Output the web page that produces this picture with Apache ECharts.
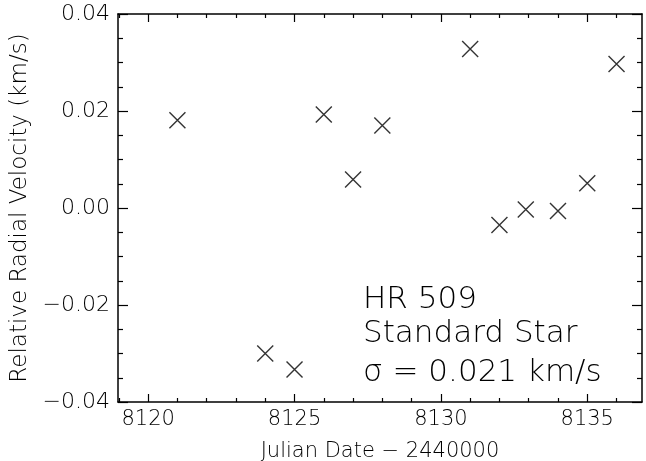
<!DOCTYPE html>
<html>
<head>
<meta charset="utf-8">
<script src="https://cdn.jsdelivr.net/npm/echarts@6/dist/echarts.min.js"></script>
<style>
  html, body { margin: 0; padding: 0; background: #fff; }
  #chart { width: 646px; height: 461px; }
</style>
</head>
<body>
<div id="chart"></div>
<script>
// Observation dates (Julian Date - 2440000) and relative radial velocities (km/s)
var julianDates = [8121.0, 8124.0, 8125.0, 8126.0, 8127.0, 8128.0, 8131.0, 8132.0, 8132.9, 8134.0, 8135.0, 8136.0];
var velocities = [0.0181, -0.0300, -0.0333, 0.0193, 0.0059, 0.0170, 0.0328, -0.0035, -0.0003, -0.0006, 0.0051, 0.0297];

// Axis ranges and ticks
var xRange = [8118.97, 8136.87];
var xMajorTicks = [8120, 8125, 8130, 8135];
var xMinorTicks = [8119, 8121, 8122, 8123, 8124, 8126, 8127, 8128, 8129, 8131, 8132, 8133, 8134, 8136];
var yRange = [-0.04, 0.04];
var yStep = 0.02;

// Annotation lines
var noteLines = ['HR 509', 'Standard Star', '\u03c3 = 0.021 km/s'];

var FONT = '"DejaVu Sans", sans-serif';
var INK = '#000';

var points = julianDates.map(function (d, i) { return [d, velocities[i]]; });

function xAxisDef(position, ticks, len, withLine, withLabels) {
  return {
    type: 'value',
    position: position,
    min: xRange[0],
    max: xRange[1],
    axisLine: { show: withLine, onZero: false, lineStyle: { color: INK, width: 1.5 } },
    axisTick: { show: true, inside: true, length: len, customValues: ticks, lineStyle: { color: INK, width: 1.2 } },
    axisLabel: withLabels ? {
      show: true, customValues: ticks, margin: 7,
      color: INK, fontFamily: FONT, fontSize: 21, fontWeight: 200,
      formatter: function (v) { return String(v); }
    } : { show: false },
    splitLine: { show: false }
  };
}

function yAxisDef(position, withLabels) {
  return {
    type: 'value',
    position: position,
    min: yRange[0],
    max: yRange[1],
    interval: yStep,
    axisLine: { show: true, onZero: false, lineStyle: { color: INK, width: 1.5 } },
    axisTick: { show: true, inside: true, length: 10, lineStyle: { color: INK, width: 1.2 } },
    minorTick: { show: true, splitNumber: 4, length: 5, lineStyle: { color: INK, width: 1.2 } },
    axisLabel: withLabels ? {
      show: true, margin: 8, color: INK, fontFamily: FONT, fontSize: 22, fontWeight: 200,
      formatter: function (v) { return v.toFixed(2).replace('-', '\u2212'); }
    } : { show: false },
    splitLine: { show: false }
  };
}

var xMain = xAxisDef('bottom', xMajorTicks, 8, true, true);
xMain.name = 'Julian Date \u2212 2440000';
xMain.nameLocation = 'middle';
xMain.nameGap = 39;
xMain.nameTextStyle = { color: INK, fontFamily: FONT, fontSize: 21, fontWeight: 200 };

var yMain = yAxisDef('left', true);
yMain.name = 'Relative Radial Velocity (km/s)';
yMain.nameLocation = 'middle';
yMain.nameGap = 86;
yMain.nameTextStyle = { color: INK, fontFamily: FONT, fontSize: 23, fontWeight: 200 };

var chart = echarts.init(document.getElementById('chart'), null, { renderer: 'canvas' });
chart.setOption({
  backgroundColor: '#fff',
  animation: false,
  grid: { left: 118, right: 4, top: 14, bottom: 59, containLabel: false, outerBoundsMode: 'none' },
  xAxis: [
    xMain,
    xAxisDef('top', xMajorTicks, 8, true, false),
    xAxisDef('bottom', xMinorTicks, 4, false, false),
    xAxisDef('top', xMinorTicks, 4, false, false)
  ],
  yAxis: [
    yMain,
    yAxisDef('right', false)
  ],
  series: [{
    type: 'scatter',
    xAxisIndex: 0,
    yAxisIndex: 0,
    data: points,
    symbol: 'path://M0 0L20 20M20 0L0 20',
    symbolSize: 16,
    itemStyle: { color: 'none', borderColor: INK, borderWidth: 1.4 }
  }],
  graphic: noteLines.map(function (line, i) {
    return {
      type: 'text',
      left: 363,
      top: [284, 318, 357][i],
      style: { text: line, fill: INK, font: '200 31px ' + FONT }
    };
  })
});
</script>
</body>
</html>
